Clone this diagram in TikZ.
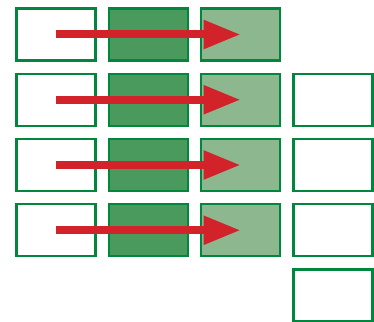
\documentclass[tikz,border=0pt]{standalone}
\usetikzlibrary{arrows.meta}
\definecolor{edgegreen}{HTML}{00873E}
\definecolor{darkfill}{HTML}{4A9A5E}
\definecolor{lightfill}{HTML}{8DB88F}
\definecolor{flowred}{HTML}{D3232A}
\tikzset{
  cell/.style={draw=edgegreen, line width=2.4pt, minimum width=79pt, minimum height=52pt, inner sep=0pt, outer sep=0pt},
  emptycell/.style={cell, fill=white},
  darkcell/.style={cell, fill=darkfill},
  lightcell/.style={cell, fill=lightfill},
  flow/.style={draw=flowred, line width=8pt, -{Triangle[length=37pt, width=27pt]}}
}
\begin{document}
\begin{tikzpicture}[x=1pt, y=-1pt]
\useasboundingbox (0,0) rectangle (374,321);
\clip (0,0) rectangle (374,321);
% three-stage rows
\foreach \r/\y in {1/34.5, 2/99.75, 3/165, 4/230.25} {
  \node[emptycell] (a\r) at (56,\y) {};
  \node[darkcell]  (b\r) at (148.3,\y) {};
  \node[lightcell] (c\r) at (240.7,\y) {};
}
% output column
\foreach \r/\y in {2/99.75, 3/165, 4/230.25, 5/295.5} {
  \node[emptycell] (d\r) at (333,\y) {};
}
% flows across each row
\foreach \r in {1,2,3,4} {
  \draw[flow] (a\r.center) -- (c\r.center);
}
\end{tikzpicture}
\end{document}
